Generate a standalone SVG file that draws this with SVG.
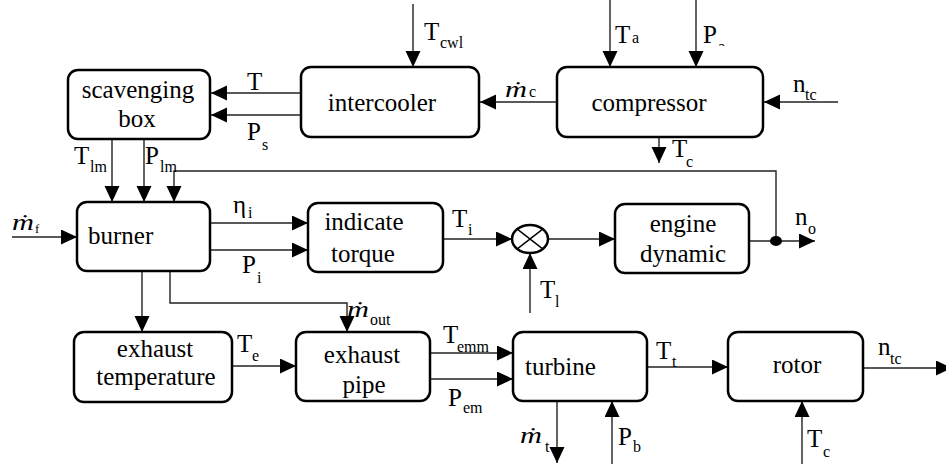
<svg xmlns="http://www.w3.org/2000/svg" width="946" height="464" viewBox="0 0 946 464" font-family="Liberation Serif, Times New Roman, Times, Noto Serif, DejaVu Serif, serif">
<defs>
<marker id="ah" markerUnits="userSpaceOnUse" markerWidth="17" markerHeight="16" refX="16" refY="7.5" orient="auto"><path d="M0,0 L16,7.5 L0,15 z" fill="#000"/></marker>
<clipPath id="clipPa"><rect x="700" y="0" width="40" height="46"/></clipPath>
</defs>
<style>
.box{fill:#fff;stroke:#000;stroke-width:2.5}
.t{font-size:25px;fill:#000}
.c{text-anchor:middle}
.s{font-size:16px}
.xs{font-size:13px}
.m{font-style:italic;font-size:24px}
.ln{fill:none;stroke:#222;stroke-width:1.4}
.ar{marker-end:url(#ah)}
</style>
<rect width="946" height="464" fill="#fff"/>
<g id="connectors">
<path class="ln ar" d="M300,93 H211"/>
<path class="ln ar" d="M300,115 H211"/>
<path class="ln ar" d="M413,4 V67"/>
<path class="ln ar" d="M557,102 H480"/>
<path class="ln ar" d="M610,0 V67"/>
<path class="ln ar" d="M696,0 V67"/>
<path class="ln ar" d="M838,102 H764"/>
<path class="ln ar" d="M659,137 V163"/>
<path class="ln ar" d="M776,241 V171 H174 V202"/>
<path class="ln ar" d="M112,139 V202"/>
<path class="ln ar" d="M144,139 V202"/>
<path class="ln ar" d="M12,237 H77"/>
<path class="ln ar" d="M210,223 H308"/>
<path class="ln ar" d="M210,250 H308"/>
<path class="ln ar" d="M443,239 H512"/>
<path class="ln ar" d="M548,239 H615"/>
<path class="ln ar" d="M530,313 V253"/>
<path class="ln ar" d="M749,241 H815"/>
<ellipse cx="776" cy="241" rx="6" ry="5" fill="#000"/>
<path class="ln ar" d="M142,271 V332"/>
<path class="ln ar" d="M170,271 V303 H347 V332"/>
<path class="ln ar" d="M232,366 H296"/>
<path class="ln ar" d="M430,353 H513"/>
<path class="ln ar" d="M430,379 H513"/>
<path class="ln ar" d="M557,401 V463"/>
<path class="ln ar" d="M612,464 V401"/>
<path class="ln ar" d="M647,367 H728"/>
<path class="ln ar" d="M863,368 H952"/>
<path class="ln ar" d="M802,464 V401"/>
</g>
<g id="scavenging-box"><rect class="box" x="68" y="70" width="142" height="69" rx="10"/><text class="t c" x="138" y="98">scavenging</text><text class="t c" x="137" y="127">box</text></g>
<g id="intercooler"><rect class="box" x="301" y="67" width="178" height="70" rx="10"/><text class="t c" x="382" y="111">intercooler</text></g>
<g id="compressor"><rect class="box" x="557" y="67" width="206" height="70" rx="10"/><text class="t c" x="649" y="111">compressor</text></g>
<g id="burner"><rect class="box" x="77" y="202" width="133" height="69" rx="10"/><text class="t" x="88" y="244">burner</text></g>
<g id="indicate-torque"><rect class="box" x="308" y="203" width="135" height="69" rx="10"/><text class="t c" x="364" y="230">indicate</text><text class="t c" x="363" y="262">torque</text></g>
<g id="sum"><ellipse cx="530" cy="239" rx="18" ry="14" fill="#fff" stroke="#000" stroke-width="2.5"/><path d="M517.3,229.1 L542.7,248.9 M517.3,248.9 L542.7,229.1" stroke="#000" stroke-width="1.4"/></g>
<g id="engine-dynamic"><rect class="box" x="615" y="204" width="134" height="69" rx="10"/><text class="t c" x="683" y="232">engine</text><text class="t c" x="683" y="262">dynamic</text></g>
<g id="exhaust-temperature"><rect class="box" x="74" y="332" width="158" height="70" rx="10"/><text class="t c" x="155" y="357">exhaust</text><text class="t c" x="156" y="385">temperature</text></g>
<g id="exhaust-pipe"><rect class="box" x="296" y="332" width="134" height="69" rx="10"/><text class="t c" x="362" y="363">exhaust</text><text class="t c" x="364" y="393">pipe</text></g>
<g id="turbine"><rect class="box" x="513" y="332" width="134" height="69" rx="10"/><text class="t" x="525" y="375">turbine</text></g>
<g id="rotor"><rect class="box" x="728" y="332" width="135" height="69" rx="10"/><text class="t c" x="797" y="373">rotor</text></g>
<g id="labels">
<text class="t" x="247" y="90">T</text>
<text class="t" x="247" y="140">P</text><text class="t s" x="262" y="150">s</text>
<text class="t" x="424" y="40">T</text><text class="t s" x="440" y="48">cwl</text>
<text class="t m" x="505" y="97" textLength="22" lengthAdjust="spacingAndGlyphs">ṁ</text><text class="t s" x="529" y="97">c</text>
<text class="t" x="615" y="43">T</text><text class="t s" x="632" y="43">a</text>
<text class="t" x="703" y="43">P</text><text class="t s" x="718" y="52" clip-path="url(#clipPa)">a</text>
<text class="t" x="793" y="92">n</text><text class="t s" x="805" y="100">tc</text>
<text class="t" x="672" y="157">T</text><text class="t s" x="686" y="167">c</text>
<text class="t" x="74" y="164">T</text><text class="t s" x="90" y="172">lm</text>
<text class="t" x="145" y="164">P</text><text class="t s" x="160" y="172">lm</text>
<text class="t m" x="12" y="230" textLength="22" lengthAdjust="spacingAndGlyphs">ṁ</text><text class="t xs" x="35" y="233">f</text>
<text class="t" x="233" y="213">η</text><text class="t s" x="248" y="218">i</text>
<text class="t" x="242" y="273">P</text><text class="t s" x="257" y="283">i</text>
<text class="t" x="452" y="227">T</text><text class="t s" x="468" y="235">i</text>
<text class="t" x="540" y="298">T</text><text class="t s" x="555" y="307">l</text>
<text class="t" x="795" y="225">n</text><text class="t s" x="808" y="234">o</text>
<text class="t m" x="347" y="317" textLength="22" lengthAdjust="spacingAndGlyphs">ṁ</text><text class="t s" x="370" y="325">out</text>
<text class="t m" x="520" y="443" textLength="22" lengthAdjust="spacingAndGlyphs">ṁ</text><text class="t s" x="545" y="452">t</text>
<text class="t" x="237" y="352">T</text><text class="t s" x="252" y="361">e</text>
<text class="t" x="443" y="343">T</text><text class="t s" x="457" y="352">emm</text>
<text class="t" x="448" y="406">P</text><text class="t s" x="463" y="413">em</text>
<text class="t" x="618" y="445">P</text><text class="t s" x="633" y="452">b</text>
<text class="t" x="656" y="359">T</text><text class="t s" x="672" y="367">t</text>
<text class="t" x="878" y="355">n</text><text class="t s" x="890" y="364">tc</text>
<text class="t" x="807" y="447">T</text><text class="t s" x="823" y="457">c</text>
</g>
</svg>
